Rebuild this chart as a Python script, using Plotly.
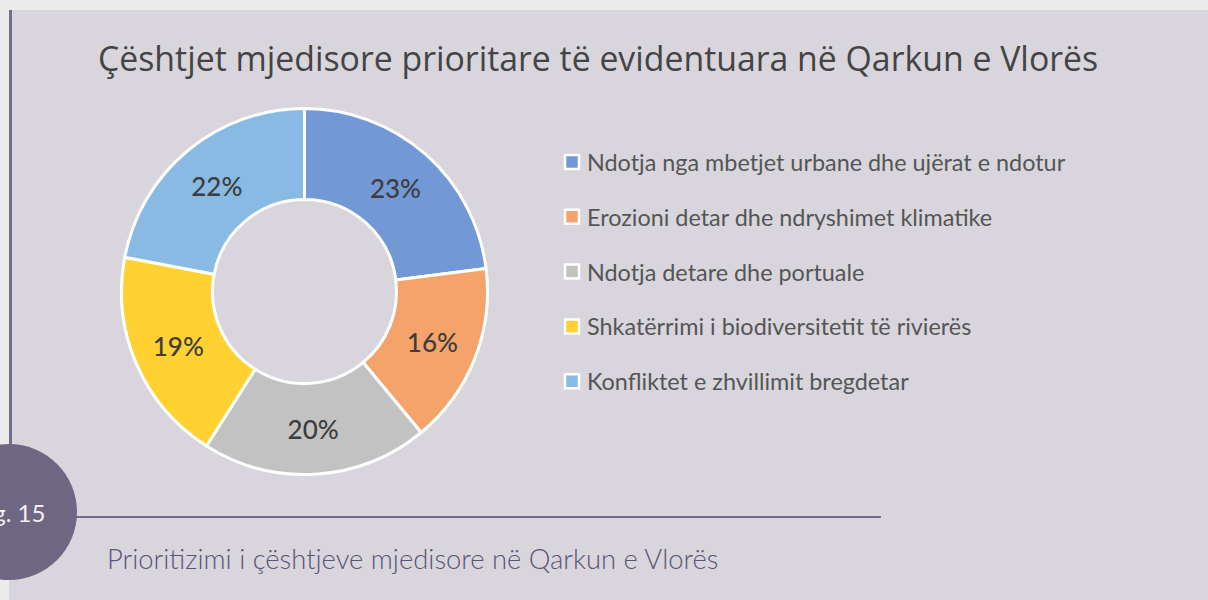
import plotly.graph_objects as go

# ---- data ----
title_text = "Çështjet mjedisore prioritare të evidentuara në Qarkun e Vlorës"
caption_text = "Prioritizimi i çështjeve mjedisore në Qarkun e Vlorës"
fig_label = "Fig. 15"
labels = [
    "Ndotja nga mbetjet urbane dhe ujërat e ndotur",
    "Erozioni detar dhe ndryshimet klimatike",
    "Ndotja detare dhe portuale",
    "Shkatërrimi i biodiversitetit të rivierës",
    "Konfliktet e zhvillimit bregdetar",
]
values = [23, 16, 20, 19, 22]
colors = ["#7299d6", "#f4a46a", "#c2c2c2", "#ffd232", "#88bae3"]

W, H = 1208, 600


def px(x):
    return x / W


def py(y):
    return 1 - y / H


fig = go.Figure()

# donut centred at (304.5, 291.5) px with outer radius 183 px
cx, cy, r = 304.5, 291.5, 183
fig.add_trace(go.Pie(
    labels=labels,
    values=values,
    hole=0.503,
    sort=False,
    direction="clockwise",
    rotation=0,
    marker=dict(colors=colors, line=dict(color="white", width=3)),
    texttemplate="%{value}%",
    textposition="inside",
    insidetextorientation="horizontal",
    textfont=dict(family="Lato", size=26, color="#3d3d3d", weight=500),
    hoverinfo="label+percent",
    domain=dict(x=[px(cx - r), px(cx + r)], y=[py(cy + r), py(cy - r)]),
    showlegend=False,
))

shapes = []
annotations = []

# panel background
shapes.append(dict(type="rect", xref="paper", yref="paper",
                   x0=px(9), x1=1, y0=0, y1=py(10),
                   fillcolor="#d8d5dc", line=dict(width=0), layer="below"))
# left vertical line
shapes.append(dict(type="line", xref="paper", yref="paper",
                   x0=px(10.5), x1=px(10.5), y0=py(10), y1=py(460),
                   line=dict(color="#776d8b", width=3), layer="below"))
# horizontal rule
shapes.append(dict(type="line", xref="paper", yref="paper",
                   x0=px(70), x1=px(881), y0=py(517), y1=py(517),
                   line=dict(color="#736a86", width=2)))
# figure circle
cr = 68
ccx, ccy = 9, 512
shapes.append(dict(type="circle", xref="paper", yref="paper",
                   x0=px(ccx - cr), x1=px(ccx + cr), y0=py(ccy + cr), y1=py(ccy - cr),
                   fillcolor="#6f6682", line=dict(width=0)))

# manual legend
leg_x, leg_y0, leg_dy = 565, 162, 54.8
for i, (lab, col) in enumerate(zip(labels, colors)):
    yc = leg_y0 + i * leg_dy
    shapes.append(dict(type="rect", xref="paper", yref="paper",
                       x0=px(leg_x), x1=px(leg_x + 14), y0=py(yc + 7), y1=py(yc - 7),
                       fillcolor=col, line=dict(color="white", width=2.5)))
    annotations.append(dict(xref="paper", yref="paper", x=px(leg_x + 20), y=py(yc),
                            xanchor="left", yanchor="middle", showarrow=False,
                            text=lab, font=dict(family="Lato", size=23.4, color="#555555")))

# title
annotations.append(dict(xref="paper", yref="paper", x=px(598), y=py(58),
                        xanchor="center", yanchor="middle", showarrow=False,
                        text=title_text,
                        font=dict(family="Open Sans", size=33.8, color="#444444", weight=500)))
# caption
annotations.append(dict(xref="paper", yref="paper", x=px(105), y=py(558),
                        xanchor="left", yanchor="middle", showarrow=False,
                        text=caption_text,
                        font=dict(family="Lato", size=27.4, color="#5a5475", weight=300)))
# fig label
annotations.append(dict(xref="paper", yref="paper", x=px(47), y=py(512),
                        xanchor="right", yanchor="middle", showarrow=False,
                        text=fig_label,
                        font=dict(family="Lato", size=24, color="#f2f0f5")))

fig.update_layout(
    width=W, height=H,
    margin=dict(l=0, r=0, t=0, b=0),
    paper_bgcolor="#ececec",
    plot_bgcolor="#ececec",
    shapes=shapes,
    annotations=annotations,
)

fig.write_html(
    "out.html",
    config={"displayModeBar": False},
    post_script="document.body.style.margin='0';document.body.style.overflow='hidden';",
)
